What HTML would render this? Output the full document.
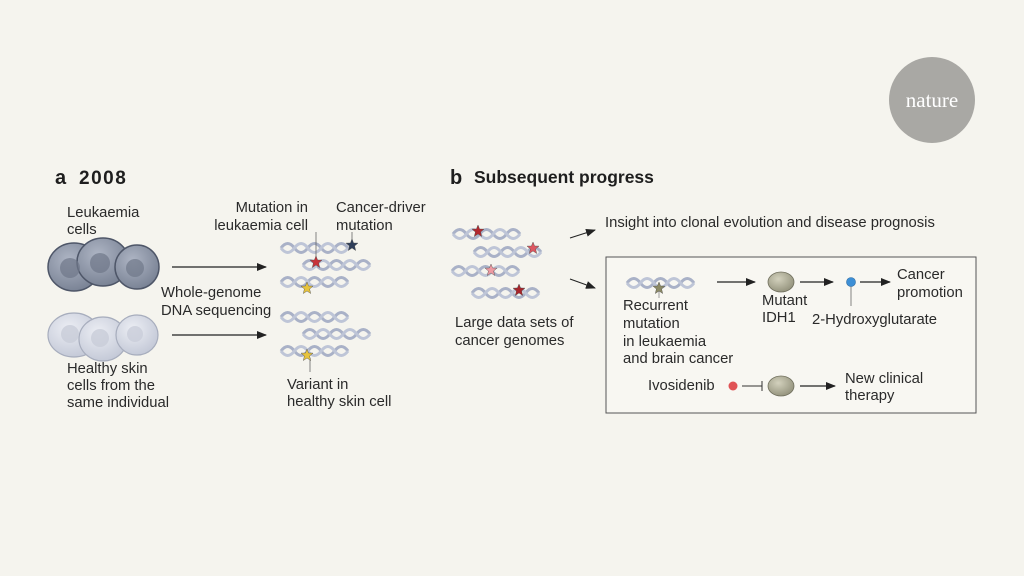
<!DOCTYPE html>
<html><head><meta charset="utf-8"><style>
html,body{margin:0;padding:0;background:#f5f4ee;}
svg{display:block}
text{font-family:"Liberation Sans",sans-serif;font-size:14.8px;fill:#2a2a2a}
.h{font-weight:bold;font-size:18px;fill:#1e1e1e}
</style></head><body>
<svg width="1024" height="576" viewBox="0 0 1024 576" xmlns="http://www.w3.org/2000/svg">
<defs>
<symbol id="dna" overflow="visible">
<path d="M0,0 q6.7,-9 13.4,0 t13.4,0 t13.4,0 t13.4,0 t13.4,0" fill="none" stroke="#a9b1c7" stroke-width="3"/>
<path d="M0,0 q6.7,9 13.4,0 t13.4,0 t13.4,0 t13.4,0 t13.4,0" fill="none" stroke="#bec5d7" stroke-width="3"/>
</symbol>
<symbol id="star" overflow="visible"><polygon points="0,-6 1.6,-2 6,-1.9 2.6,1 3.7,5.5 0,3 -3.7,5.5 -2.6,1 -6,-1.9 -1.6,-2" stroke="#444" stroke-width="0.4"/></symbol>
<marker id="ar" markerWidth="10" markerHeight="8" refX="9" refY="4" orient="auto" markerUnits="userSpaceOnUse"><path d="M0,0 L10,4 L0,8 z" fill="#222"/></marker>
<radialGradient id="dk" cx="40%" cy="35%" r="65%"><stop offset="0" stop-color="#aeb5c4"/><stop offset="1" stop-color="#7b8496"/></radialGradient>
<radialGradient id="lt" cx="40%" cy="35%" r="65%"><stop offset="0" stop-color="#eceef4"/><stop offset="1" stop-color="#c5cad8"/></radialGradient>
<radialGradient id="pr" cx="40%" cy="35%" r="65%"><stop offset="0" stop-color="#d3d1bd"/><stop offset="1" stop-color="#96957f"/></radialGradient>
</defs>

<circle cx="932" cy="100" r="43" fill="#a9a8a4"/>
<text x="932" y="107" text-anchor="middle" style="font-family:'Liberation Serif',serif;font-size:21px;fill:#fff">nature</text>

<text x="55" y="184" class="h" style="font-size:20px">a</text><text x="79" y="184" class="h" style="font-size:19px;letter-spacing:1.5px">2008</text>
<text x="450" y="184" class="h" style="font-size:20px">b</text><text x="474" y="183" class="h" style="font-size:17.5px">Subsequent progress</text>

<g stroke="#4e5668" stroke-width="1.5">
<ellipse cx="74" cy="267" rx="26" ry="24" fill="url(#dk)"/>
<ellipse cx="103" cy="262" rx="26" ry="24" fill="url(#dk)"/>
<ellipse cx="137" cy="267" rx="22" ry="22" fill="url(#dk)"/>
</g>
<g fill="#6f7789" opacity="0.7"><circle cx="70" cy="268" r="10"/><circle cx="100" cy="263" r="10"/><circle cx="135" cy="268" r="9"/></g>
<g stroke="#a7adbd" stroke-width="1.2">
<ellipse cx="74" cy="335" rx="26" ry="22" fill="url(#lt)"/>
<ellipse cx="103" cy="339" rx="24" ry="22" fill="url(#lt)"/>
<ellipse cx="137" cy="335" rx="21" ry="20" fill="url(#lt)"/>
</g>
<g fill="#c9cdd9" opacity="0.8"><circle cx="70" cy="334" r="9"/><circle cx="100" cy="338" r="9"/><circle cx="135" cy="334" r="8"/></g>

<text x="67" y="217">Leukaemia</text><text x="67" y="234">cells</text>
<text x="67" y="373">Healthy skin</text><text x="67" y="390">cells from the</text><text x="67" y="407">same individual</text>

<line x1="172" y1="267" x2="266" y2="267" stroke="#222" stroke-width="1.2" marker-end="url(#ar)"/>
<line x1="172" y1="335" x2="266" y2="335" stroke="#222" stroke-width="1.2" marker-end="url(#ar)"/>
<text x="161" y="297">Whole-genome</text><text x="161" y="315">DNA sequencing</text>

<use href="#dna" x="281" y="248"/><use href="#dna" x="303" y="265"/><use href="#dna" x="281" y="282"/>
<use href="#dna" x="281" y="317"/><use href="#dna" x="303" y="334"/><use href="#dna" x="281" y="351"/>
<line x1="316" y1="232" x2="316" y2="258" stroke="#666" stroke-width="0.8"/>
<line x1="352" y1="232" x2="352" y2="240" stroke="#666" stroke-width="0.8"/>
<line x1="310" y1="358" x2="310" y2="372" stroke="#666" stroke-width="0.8"/>
<use href="#star" x="352" y="245" fill="#2f3e5a"/>
<use href="#star" x="316" y="262" fill="#c8333a"/>
<use href="#star" x="307" y="288" fill="#e7c33c"/>
<use href="#star" x="307" y="355" fill="#e7c33c"/>
<text x="308" y="212" text-anchor="end">Mutation in</text><text x="308" y="230" text-anchor="end">leukaemia cell</text>
<text x="336" y="212">Cancer-driver</text><text x="336" y="230">mutation</text>
<text x="287" y="389">Variant in</text><text x="287" y="406">healthy skin cell</text>

<use href="#dna" x="453" y="234"/><use href="#dna" x="474" y="252"/><use href="#dna" x="452" y="271"/><use href="#dna" x="472" y="293"/>
<use href="#star" x="478" y="231" fill="#b3282e"/>
<use href="#star" x="533" y="248" fill="#dc5660"/>
<use href="#star" x="491" y="270" fill="#ee9aa2"/>
<use href="#star" x="519" y="290" fill="#a8242a"/>
<text x="455" y="327">Large data sets of</text><text x="455" y="345">cancer genomes</text>
<line x1="570" y1="238" x2="595" y2="230" stroke="#222" stroke-width="1" marker-end="url(#ar)"/>
<line x1="570" y1="279" x2="595" y2="288" stroke="#222" stroke-width="1" marker-end="url(#ar)"/>
<text x="605" y="227">Insight into clonal evolution and disease prognosis</text>

<rect x="606" y="257" width="370" height="156" fill="#f8f7f2" stroke="#555" stroke-width="1"/>
<use href="#dna" x="627" y="283"/>
<line x1="659" y1="290" x2="659" y2="298" stroke="#888" stroke-width="0.8"/>
<use href="#star" x="659" y="288" fill="#8c8a66"/>
<text x="623" y="310">Recurrent</text><text x="623" y="328">mutation</text><text x="623" y="346">in leukaemia</text><text x="623" y="363">and brain cancer</text>
<line x1="717" y1="282" x2="755" y2="282" stroke="#222" stroke-width="1.2" marker-end="url(#ar)"/>
<ellipse cx="781" cy="282" rx="13" ry="10" fill="url(#pr)" stroke="#6f6e5c" stroke-width="0.8"/>
<text x="762" y="305">Mutant</text><text x="762" y="322">IDH1</text>
<line x1="800" y1="282" x2="833" y2="282" stroke="#222" stroke-width="1.2" marker-end="url(#ar)"/>
<line x1="851" y1="285" x2="851" y2="306" stroke="#666" stroke-width="0.8"/>
<circle cx="851" cy="282" r="4.5" fill="#3d8fd6" stroke="#2c6aa0" stroke-width="0.6"/>
<line x1="860" y1="282" x2="890" y2="282" stroke="#222" stroke-width="1.2" marker-end="url(#ar)"/>
<text x="897" y="279">Cancer</text><text x="897" y="297">promotion</text>
<text x="812" y="324">2-Hydroxyglutarate</text>
<text x="648" y="390">Ivosidenib</text>
<circle cx="733" cy="386" r="4.5" fill="#e05356"/>
<line x1="742" y1="386" x2="762" y2="386" stroke="#333" stroke-width="1"/>
<line x1="762" y1="381" x2="762" y2="391" stroke="#333" stroke-width="1"/>
<ellipse cx="781" cy="386" rx="13" ry="10" fill="url(#pr)" stroke="#6f6e5c" stroke-width="0.8"/>
<line x1="800" y1="386" x2="835" y2="386" stroke="#222" stroke-width="1.2" marker-end="url(#ar)"/>
<text x="845" y="383">New clinical</text><text x="845" y="400">therapy</text>
</svg>
</body></html>
